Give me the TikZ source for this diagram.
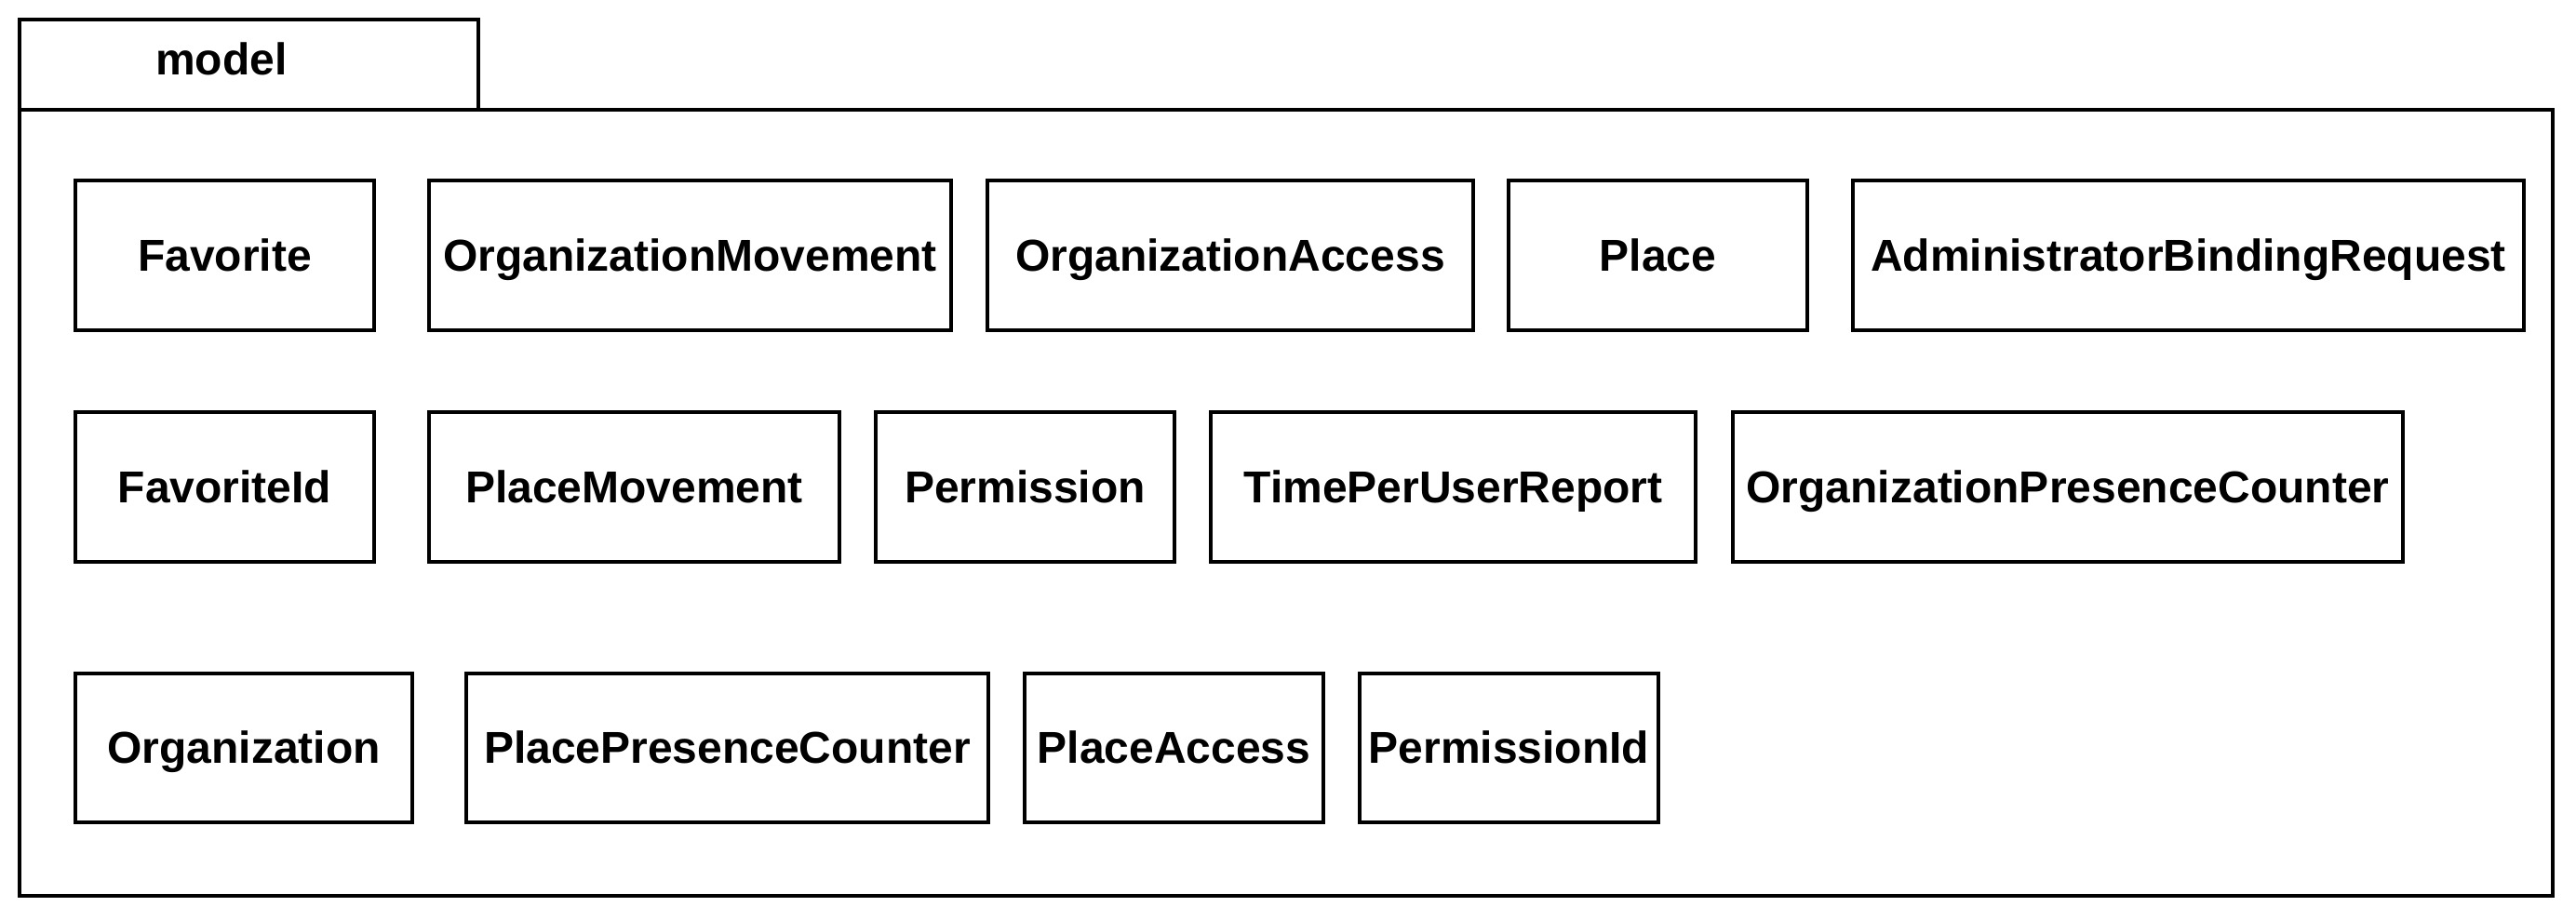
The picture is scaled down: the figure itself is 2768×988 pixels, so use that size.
\documentclass[tikz,border=0pt]{standalone}
\usepackage{fontspec}
\setmainfont{Liberation Sans}
\begin{document}
\begin{tikzpicture}[x=1pt,y=-1pt,
  lw/.style={line width=3.4pt},
  txt/.style={inner sep=0pt, text height=43pt, text depth=10pt,
    font=\fontsize{48}{58}\selectfont\bfseries},
  cls/.style={draw, lw, rectangle, txt, align=center},
  pkgpart/.style={draw, lw, rectangle, inner sep=0pt}]
\useasboundingbox (0,0) rectangle (2768,988);
% package shape
\node[pkgpart, minimum width=493pt, minimum height=97pt] (tab) at (267.5,69.5) {};
\node[pkgpart, minimum width=2722pt, minimum height=845pt] (body) at (1382,540.5) {};
\node[txt] (lbl) at (238,64) {model};
% row 1
\node[cls, minimum width=321pt, minimum height=161pt] (fav) at (241.5,274.5) {Favorite};
\node[cls, minimum width=561pt, minimum height=161pt] (orgmov) at (741.5,274.5) {OrganizationMovement};
\node[cls, minimum width=522pt, minimum height=161pt] (orgacc) at (1322,274.5) {OrganizationAccess};
\node[cls, minimum width=321pt, minimum height=161pt] (place) at (1781.5,274.5) {Place};
\node[cls, minimum width=721pt, minimum height=161pt] (abr) at (2351.5,274.5) {AdministratorBindingRequest};
% row 2
\node[cls, minimum width=321pt, minimum height=161pt] (favid) at (241.5,523.5) {FavoriteId};
\node[cls, minimum width=441pt, minimum height=161pt] (plmov) at (681.5,523.5) {PlaceMovement};
\node[cls, minimum width=321pt, minimum height=161pt] (perm) at (1101.5,523.5) {Permission};
\node[cls, minimum width=521pt, minimum height=161pt] (tpur) at (1561.5,523.5) {TimePerUserReport};
\node[cls, minimum width=720pt, minimum height=161pt] (opc) at (2222,523.5) {OrganizationPresenceCounter};
% row 3
\node[cls, minimum width=362pt, minimum height=160pt] (org) at (262,804) {Organization};
\node[cls, minimum width=561pt, minimum height=160pt] (ppc) at (781.5,804) {PlacePresenceCounter};
\node[cls, minimum width=321pt, minimum height=160pt] (placc) at (1261.5,804) {PlaceAccess};
\node[cls, minimum width=321pt, minimum height=160pt] (permid) at (1621.5,804) {PermissionId};
\end{tikzpicture}
\end{document}
